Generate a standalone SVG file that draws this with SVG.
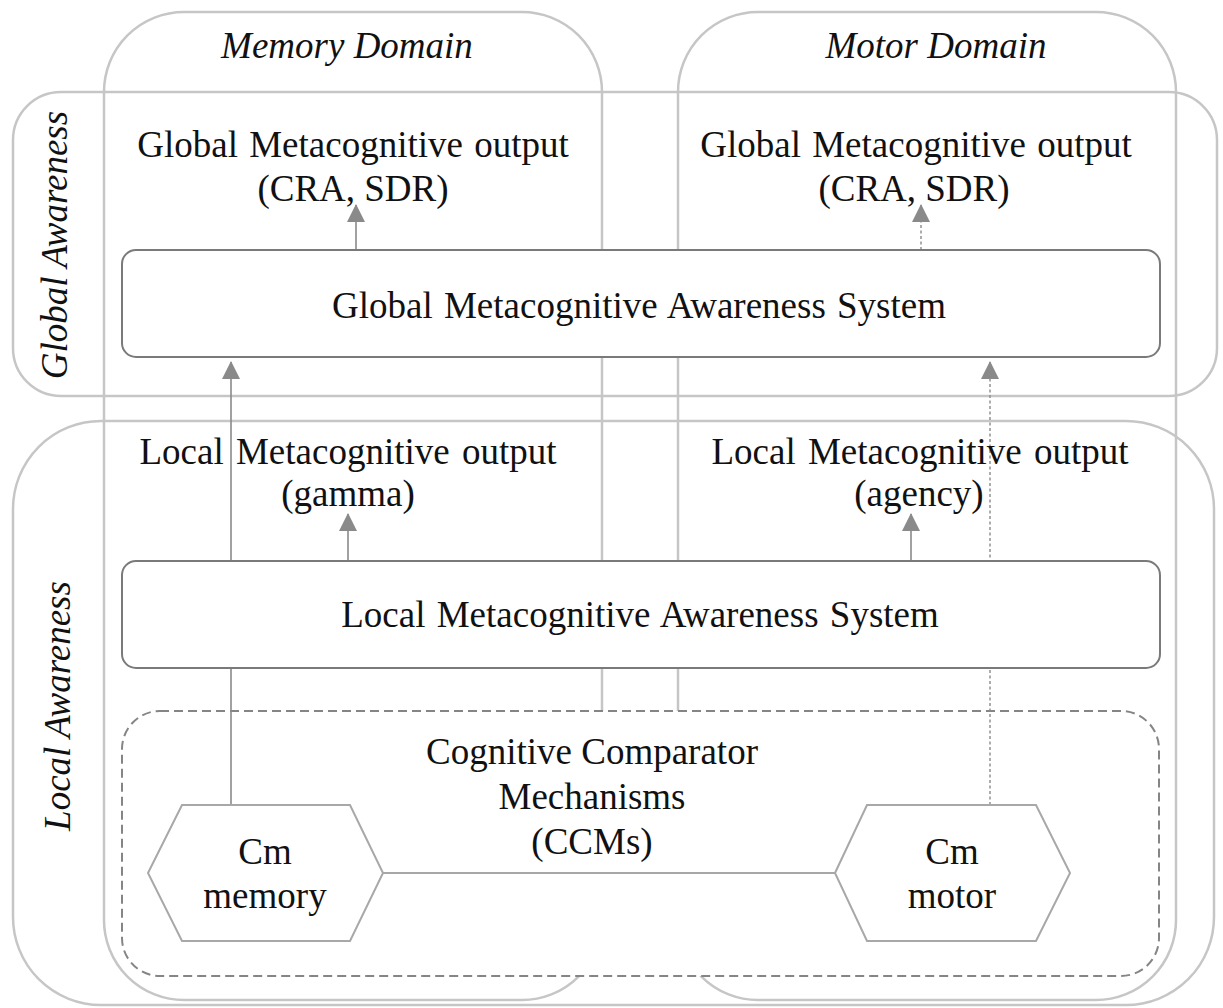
<svg xmlns="http://www.w3.org/2000/svg" width="1223" height="1008" viewBox="0 0 1223 1008">
<style>
  .outline { fill: none; stroke: #c6c6c6; stroke-width: 2.5; }
  .box { fill: #ffffff; stroke: #7a7a7a; stroke-width: 2; }
  .dashbox { fill: #ffffff; stroke: #858585; stroke-width: 2; stroke-dasharray: 9 5; }
  .hex { fill: #ffffff; stroke: #a8a8a8; stroke-width: 2; }
  .conn { fill: none; stroke: #8a8a8a; stroke-width: 1.6; }
  .dot { stroke-dasharray: 3 2.5; stroke-width: 1.4; }
  .t { font-family: "Liberation Serif", "Times New Roman", serif; font-size: 37px; fill: #111111; text-anchor: middle; }
  .it { font-style: italic; }
</style>
<defs>
  <marker id="arrow" markerUnits="userSpaceOnUse" markerWidth="18" markerHeight="18" viewBox="0 0 18 18" refX="17" refY="9" orient="auto">
    <path d="M0,0 L18,9 L0,18 Z" fill="#8a8a8a"/>
  </marker>
</defs>
<rect width="1223" height="1008" fill="#ffffff"/>

<g id="memory-domain">
  <rect class="outline" x="104" y="12" width="498" height="988" rx="80" ry="80"/>
  <text class="t it" x="347" y="58">Memory Domain</text>
</g>
<g id="motor-domain">
  <rect class="outline" x="678" y="12" width="498" height="988" rx="80" ry="80"/>
  <text class="t it" x="936" y="58">Motor Domain</text>
</g>
<g id="global-awareness">
  <rect class="outline" x="13" y="92" width="1204" height="304" rx="48" ry="48"/>
  <text class="t it" transform="translate(67,245) rotate(-90)">Global Awareness</text>
</g>
<g id="local-awareness">
  <rect class="outline" x="13" y="421" width="1201" height="584" rx="88" ry="88"/>
  <text class="t it" transform="translate(70,706) rotate(-90)">Local Awareness</text>
</g>

<g id="ccm">
  <rect class="dashbox" x="122" y="711" width="1037" height="265" rx="38" ry="38"/>
  <text class="t" x="592" y="764">Cognitive Comparator</text>
  <text class="t" x="592" y="809">Mechanisms</text>
  <text class="t" x="592" y="854">(CCMs)</text>
</g>

<g id="connectors">
  <line class="conn" x1="383" y1="873" x2="835" y2="873"/>
  <line class="conn" x1="231" y1="805" x2="231" y2="362" marker-end="url(#arrow)"/>
  <line class="conn dot" x1="990" y1="805" x2="990" y2="362" marker-end="url(#arrow)"/>
  <line class="conn" x1="348" y1="561" x2="348" y2="514" marker-end="url(#arrow)"/>
  <line class="conn" x1="911" y1="561" x2="911" y2="514" marker-end="url(#arrow)"/>
  <line class="conn" x1="356" y1="250" x2="356" y2="205" marker-end="url(#arrow)"/>
  <line class="conn dot" x1="921" y1="250" x2="921" y2="205" marker-end="url(#arrow)"/>
</g>

<g id="global-output-memory">
  <text class="t" x="353" y="157" word-spacing="2">Global Metacognitive output</text>
  <text class="t" x="353" y="201">(CRA, SDR)</text>
</g>
<g id="global-output-motor">
  <text class="t" x="916" y="157" word-spacing="2">Global Metacognitive output</text>
  <text class="t" x="914" y="201">(CRA, SDR)</text>
</g>
<g id="global-mas">
  <rect class="box" x="122" y="250" width="1038" height="107" rx="14" ry="14"/>
  <text class="t" x="639" y="318" word-spacing="2">Global Metacognitive Awareness System</text>
</g>
<g id="local-output-memory">
  <text class="t" x="348" y="464" word-spacing="3">Local Metacognitive output</text>
  <text class="t" x="348" y="506">(gamma)</text>
</g>
<g id="local-output-motor">
  <text class="t" x="920" y="464" word-spacing="3">Local Metacognitive output</text>
  <text class="t" x="919" y="506">(agency)</text>
</g>
<g id="local-mas">
  <rect class="box" x="122" y="561" width="1038" height="107" rx="14" ry="14"/>
  <text class="t" x="640" y="627" word-spacing="2">Local Metacognitive Awareness System</text>
</g>
<g id="cm-memory">
  <polygon class="hex" points="148,873 182,805 350,805 383,873 350,941 182,941"/>
  <text class="t" x="265" y="864">Cm</text>
  <text class="t" x="265" y="908">memory</text>
</g>
<g id="cm-motor">
  <polygon class="hex" points="835,873 867,805 1036,805 1070,873 1036,941 867,941"/>
  <text class="t" x="952" y="864">Cm</text>
  <text class="t" x="952" y="908">motor</text>
</g>
</svg>
